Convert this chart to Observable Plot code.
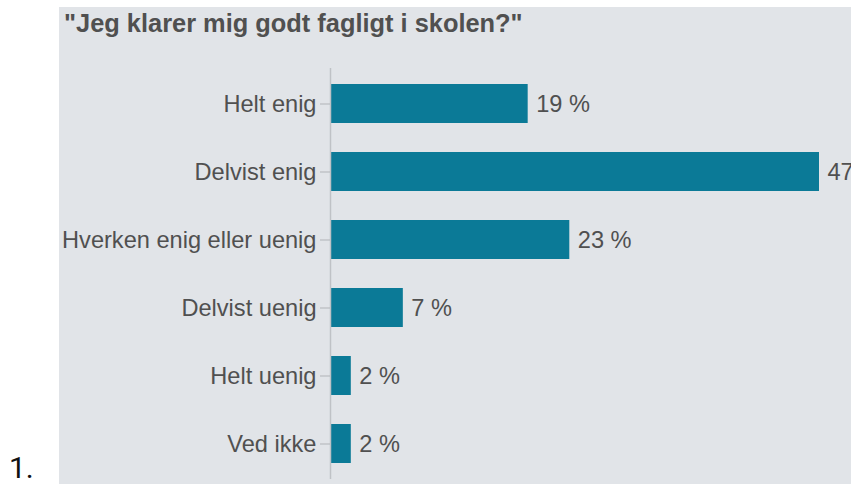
<!DOCTYPE html>
<html><head><meta charset="utf-8">
<script src="https://cdn.jsdelivr.net/npm/d3@7"></script>
<script src="https://cdn.jsdelivr.net/npm/@observablehq/plot@0.6"></script>
<style>
html,body{margin:0;padding:0;background:#fff;}
body{width:851px;height:484px;overflow:hidden;position:relative;font-family:"Liberation Sans",Arial,sans-serif;}
#num{position:absolute;left:9px;top:453px;font-family:Roboto,"Liberation Sans",sans-serif;font-size:30px;line-height:30px;color:#111;}
#panel{position:absolute;left:59px;top:7px;width:792px;height:477px;background:#e1e4e8;overflow:hidden;}
#title{position:absolute;left:5px;top:4px;font-weight:bold;font-size:25.4px;line-height:25px;color:#505050;white-space:nowrap;}
#chart{position:absolute;left:0;top:40px;}
</style>
</head><body>
<div id="num">1.</div>
<div id="panel">
  <div id="title">"Jeg klarer mig godt fagligt i skolen?"</div>
  <div id="chart"></div>
</div>
<script>
const categories = ["Helt enig", "Delvist enig", "Hverken enig eller uenig", "Delvist uenig", "Helt uenig", "Ved ikke"];
const values = [19, 47, 23, 7, 2, 2];
const valueSuffix = " %";

const data = categories.map((c, i) => ({label: c, value: values[i]}));

const chart = Plot.plot({
  width: 792,
  height: 437,
  marginTop: 21,
  marginBottom: 5,
  marginLeft: 271,
  marginRight: 32,
  style: {background: "transparent", fontFamily: "'Liberation Sans', Arial, sans-serif", fontSize: "23.6px", color: "#505050", overflow: "visible"},
  x: {domain: [0, 47], axis: null},
  y: {domain: categories, paddingInner: 0.42, paddingOuter: 0.21, label: null},
  marks: [
    Plot.barX(data, {x: "value", y: "label", fill: "#0b7a97"}),
    Plot.ruleX([0], {stroke: "#bfc2c6", strokeWidth: 1.5}),
    Plot.axisY({tickSize: 10, tickPadding: 4, stroke: "#b0b3b7", fill: "#505050", fontSize: 23.6, label: null}),
    Plot.text(data, {x: "value", y: "label", text: d => d.value + valueSuffix, textAnchor: "start", dx: 8, fontSize: 23.6, fill: "#505050"})
  ]
});
document.getElementById("chart").appendChild(chart);
</script>
</body></html>
